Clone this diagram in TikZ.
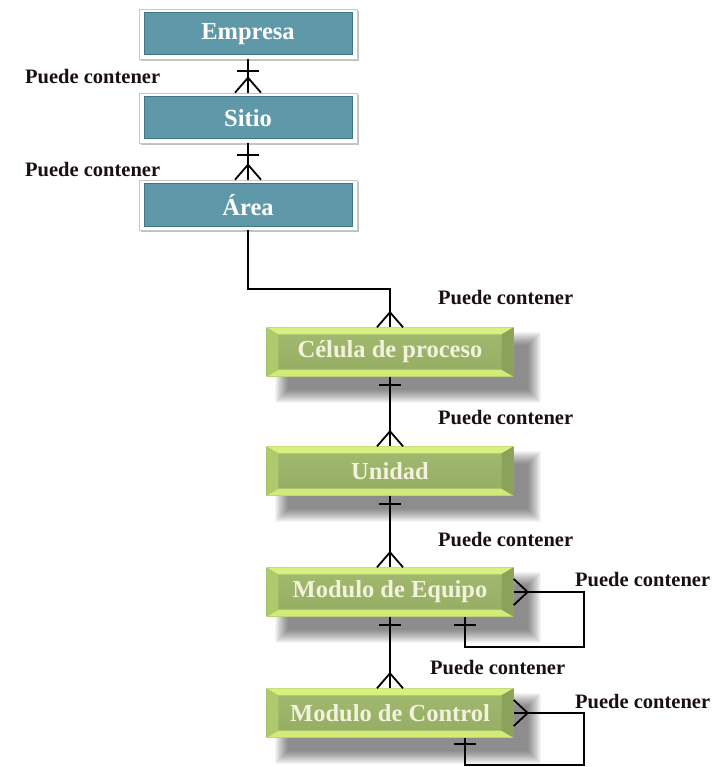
\documentclass[tikz,border=0pt]{standalone}
\usepackage{fontspec}
\setmainfont{Liberation Serif}
\usetikzlibrary{calc,shadows}
\pgfdeclarelayer{background}
\pgfsetlayers{background,main}

\definecolor{tealface}{HTML}{5F98A8}
\definecolor{tealedge}{HTML}{3E7686}
\definecolor{greentop}{HTML}{A2BB70}
\definecolor{greenbot}{HTML}{93AC62}
\definecolor{bevtop}{HTML}{D8F17E}
\definecolor{bevbot}{HTML}{D2EA7A}
\definecolor{bevleft}{HTML}{AECA6C}
\definecolor{bevright}{HTML}{8AA25A}
\definecolor{creamtext}{HTML}{F3F2DC}
\definecolor{labeltext}{HTML}{1A0F14}

\tikzset{
  x=1pt, y=-1pt,
  frame/.style={minimum width=218pt, minimum height=50pt, inner sep=0pt,
    fill=white, draw=black!22, line width=0.6pt,
    drop shadow={shadow xshift=1.5pt, shadow yshift=-2pt, opacity=0.4, fill=black!60}},
  tealbox/.style={minimum width=208pt, minimum height=42pt, inner sep=0pt,
    fill=tealface, draw=tealedge, line width=1pt, text=white,
    font=\fontsize{24.5}{26}\selectfont\bfseries},
  greenbox/.style={minimum width=247pt, minimum height=49pt, inner sep=0pt,
    top color=greentop, bottom color=greenbot, text=creamtext,
    font=\fontsize{24.5}{26}\selectfont\bfseries},
  lbl/.style={anchor=west, inner sep=0pt, text=labeltext,
    font=\fontsize{20.5}{22}\selectfont\bfseries},
  conn/.style={line width=1.8pt, black, line join=miter},
  crowup/.pic={\draw[conn] (-13,0) -- (0,-15) -- (13,0);},
  crowside/.pic={\draw[conn] (0,-13) -- (14,0) -- (0,13);},
  tickh/.pic={\draw[conn] (-11,0) -- (11,0);},
}

% bevelled edges of a green box
\newcommand\bevelbox[1]{%
  \fill[bevtop] (#1.north west) -- (#1.north east) -- ($(#1.north east)+(-12,7)$) -- ($(#1.north west)+(12,7)$) -- cycle;
  \fill[bevbot] (#1.south west) -- (#1.south east) -- ($(#1.south east)+(-12,-7)$) -- ($(#1.south west)+(12,-7)$) -- cycle;
  \fill[bevleft] (#1.north west) -- ($(#1.north west)+(12,7)$) -- ($(#1.south west)+(12,-7)$) -- (#1.south west) -- cycle;
  \fill[bevright] (#1.north east) -- ($(#1.north east)+(-12,7)$) -- ($(#1.south east)+(-12,-7)$) -- (#1.south east) -- cycle;
}
% soft grey shadow under a green box
\newcommand\softshadow[1]{%
  \begin{pgfonlayer}{background}
    \foreach \i in {0,...,13}{
      \fill[black, opacity=0.04] ($(#1.north west)+(22-\i,18-\i)$) rectangle ($(#1.south east)+(14+\i,13+\i)$);
    }
  \end{pgfonlayer}}

\begin{document}
\begin{tikzpicture}
\useasboundingbox (0,0) rectangle (715,767);
\begin{pgfonlayer}{background}
  \fill[white] (0,0) rectangle (715,767);
\end{pgfonlayer}

% upper level: teal boxes
\node[frame] (empresa-frame) at (248,34) {};
\node[tealbox] (empresa) at (248,34) {Empresa};
\node[frame] (sitio-frame) at (248,118) {};
\node[tealbox] (sitio) at (248,118) {Sitio};
\node[frame] (area-frame) at (248,205) {};
\node[tealbox] (area) at (248,205) {Área};

% lower level: green bevelled boxes
\node[greenbox] (celula) at (390,352) {Célula de proceso};
\node[greenbox] (unidad) at (390,471) {Unidad};
\node[greenbox] (equipo) at (390,592) {Modulo de Equipo};
\node[greenbox] (control) at (390,713) {Modulo de Control};
\foreach \b in {celula,unidad,equipo,control}{\softshadow{\b}}
\foreach \b in {celula,unidad,equipo,control}{\bevelbox{\b}}

% connectors
\draw[conn] (empresa-frame.south) -- (sitio-frame.north);
\pic at ($(empresa-frame.south)+(0,12)$) {tickh};
\pic at (sitio-frame.north) {crowup};

\draw[conn] (sitio-frame.south) -- (area-frame.north);
\pic at ($(sitio-frame.south)+(0,12)$) {tickh};
\pic at (area-frame.north) {crowup};

\draw[conn] (area-frame.south) |- ($(celula.north)+(0,-38)$) -- (celula.north);
\pic at (celula.north) {crowup};

\draw[conn] (celula.south) -- (unidad.north);
\pic at ($(celula.south)+(0,8)$) {tickh};
\pic at (unidad.north) {crowup};

\draw[conn] (unidad.south) -- (equipo.north);
\pic at ($(unidad.south)+(0,8)$) {tickh};
\pic at (equipo.north) {crowup};

\draw[conn] (equipo.south) -- (control.north);
\pic at ($(equipo.south)+(0,8)$) {tickh};
\pic at (control.north) {crowup};

% recursive relations
\draw[conn] (equipo.east) -- ++(70,0) -- ++(0,55) -| ($(equipo.south)+(75,0)$);
\pic at (equipo.east) {crowside};
\pic at ($(equipo.south)+(75,8)$) {tickh};

\draw[conn] (control.east) -- ++(70,0) -- ++(0,52) -| ($(control.south)+(75,0)$);
\pic at (control.east) {crowside};
\pic at ($(control.south)+(75,6)$) {tickh};

% relation labels
\node[lbl] (l1) at (25,77) {Puede contener};
\node[lbl] (l2) at (25,170) {Puede contener};
\node[lbl] (l3) at (438,298) {Puede contener};
\node[lbl] (l4) at (438,418) {Puede contener};
\node[lbl] (l5) at (438,540) {Puede contener};
\node[lbl] (l6) at (575,580) {Puede contener};
\node[lbl] (l7) at (430,668) {Puede contener};
\node[lbl] (l8) at (575,702) {Puede contener};
\end{tikzpicture}
\end{document}
